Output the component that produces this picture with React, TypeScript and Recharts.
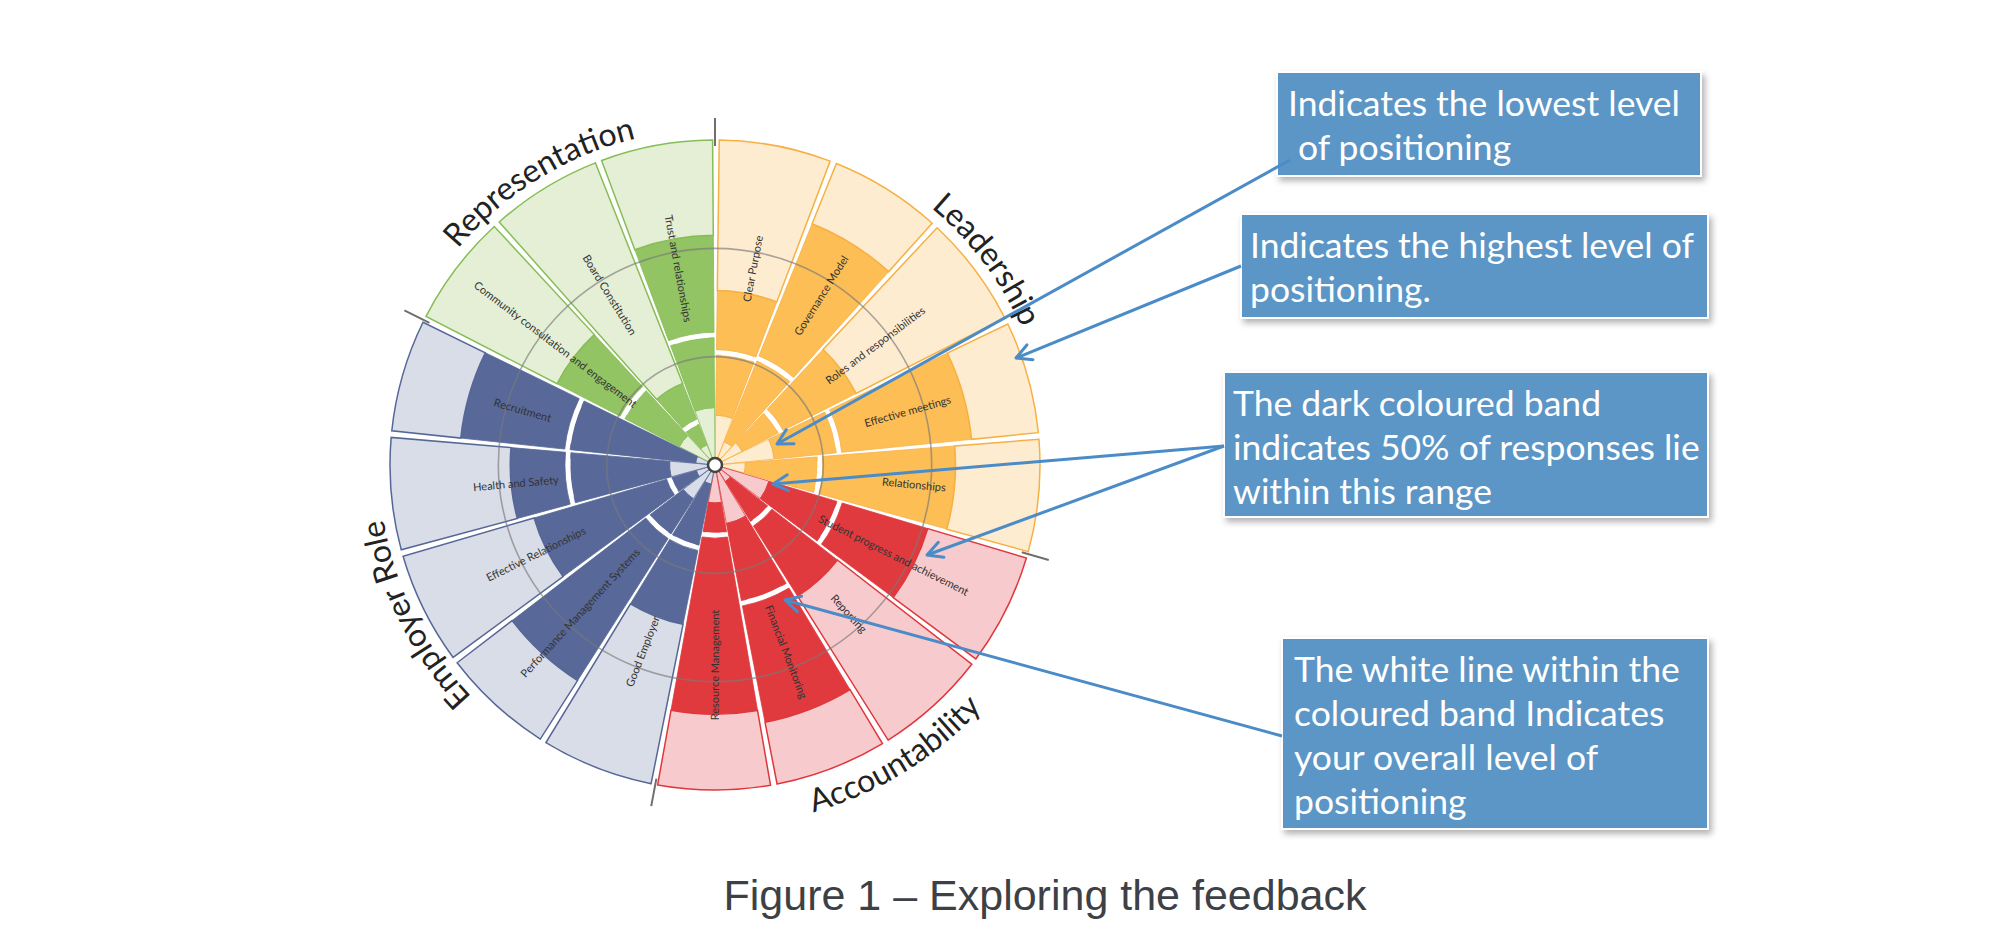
import React from 'react';
import {
  RadialBarChart,
  RadialBar,
  PolarAngleAxis,
  PolarRadiusAxis,
  PolarGrid,
  Cell,
  Sector,
  LabelList,
} from 'recharts';

// groups, clockwise from 12 o'clock
const groupNames = ['Leadership', 'Accountability', 'Employer Role', 'Representation'];

const segmentNames = [
  'Clear Purpose', 'Governance Model', 'Roles and responsibilities', 'Effective meetings', 'Relationships',
  'Student progress and achievement', 'Reporting', 'Financial Monitoring', 'Resource Management',
  'Good Employer', 'Performance Management Systems', 'Effective Relationships', 'Health and Safety', 'Recruitment',
  'Community consultation and engagement', 'Board Constitution', 'Trust and relationships',
];
const segmentGroup = [0, 0, 0, 0, 0, 1, 1, 1, 1, 2, 2, 2, 2, 2, 3, 3, 3];

// bottom of the dark band
const lowValues = [0.46, 0.23, 0.28, 0.55, 0.28, 0.52, 0.18, 0.55, 0.35, 0.18, 0.37, 0.18, 0.42, 0.18, 0.37, 0.2, 0.53];
// white line = overall level
const medianValues = [1.04, 1.06, 0.68, 1.15, 0.97, 1.2, 0.64, 1.3, 0.65, 0.78, 0.78, 0.44, 1.36, 1.37, 0.96, 0.43, 1.2];
// top of the dark band
const highValues = [1.61, 2.4, 1.46, 2.38, 2.22, 2.05, 1.43, 2.42, 2.3, 1.5, 2.36, 1.74, 1.89, 2.36, 1.64, 0.81, 2.12];

const scaleMax = 3;
const gridTicks = [1, 2];

const annotations = [
  ['Indicates the lowest level', ' of positioning'],
  ['Indicates the highest level of', 'positioning.'],
  ['The dark coloured band', 'indicates 50% of responses lie', 'within this range'],
  ['The white line within the', 'coloured band Indicates', 'your overall level of', 'positioning'],
];
const caption = 'Figure 1 \u2013 Exploring the feedback';

const palette = [
  { light: '#feecd0', dark: '#fdbe55', edge: '#f7b043' },
  { light: '#f7cbcd', dark: '#e13a3e', edge: '#df373c' },
  { light: '#d8dde8', dark: '#586899', edge: '#566797' },
  { light: '#e4efd6', dark: '#92c464', edge: '#87bd56' },
];

const CX = 715;
const CY = 465;
const R = 325;
const LINE_HALF = 0.025; // half thickness of the white median line
const LABEL_R = 200;

const step = 360 / segmentNames.length;

const rows = segmentNames.map((name, i) => ({
  name,
  group: segmentGroup[i],
  lowPart: lowValues[i],
  lowBand: medianValues[i] - lowValues[i] - LINE_HALF,
  medianLine: LINE_HALF * 2,
  highBand: highValues[i] - medianValues[i] - LINE_HALF,
  topPart: scaleMax - highValues[i],
}));

const parts = [
  { key: 'lowPart', tone: 'light' },
  { key: 'lowBand', tone: 'dark' },
  { key: 'medianLine', tone: 'line' },
  { key: 'highBand', tone: 'dark' },
  { key: 'topPart', tone: 'light' },
];

const renderMedian = (props: any) => {
  const { cx, cy, innerRadius, outerRadius, startAngle, endAngle } = props;
  const inset = (endAngle - startAngle) * 0.12;
  return (
    <Sector
      cx={cx}
      cy={cy}
      innerRadius={innerRadius}
      outerRadius={outerRadius}
      startAngle={startAngle + inset}
      endAngle={endAngle - inset}
      fill="#ffffff"
    />
  );
};

const renderSegmentLabel = (props: any) => {
  const { viewBox, value, index } = props;
  if (!viewBox) return null;
  const mid = (viewBox.startAngle + viewBox.endAngle) / 2;
  const rad = (-mid * Math.PI) / 180;
  const x = viewBox.cx + LABEL_R * Math.cos(rad);
  const y = viewBox.cy + LABEL_R * Math.sin(rad);
  const a = (((mid % 360) + 540) % 360) - 180;
  const rot = a >= -90 && a <= 90 ? -a : 180 - a;
  return (
    <text
      key={`lbl-${index}`}
      x={x}
      y={y}
      transform={`rotate(${rot} ${x} ${y})`}
      textAnchor="middle"
      dominantBaseline="central"
      fontFamily="Lato, 'Open Sans', sans-serif"
      fontSize={11}
      fill="#333"
    >
      {value}
    </text>
  );
};

// helpers for the overlay (titles, arrows) - theta clockwise from 12 o'clock
const pt = (theta: number, r: number) => [
  CX + r * Math.sin((theta * Math.PI) / 180),
  CY - r * Math.cos((theta * Math.PI) / 180),
];
const arcPath = (t1: number, t2: number, r: number, clockwise: boolean) => {
  const [x1, y1] = pt(t1, r);
  const [x2, y2] = pt(t2, r);
  return `M${x1},${y1} A${r},${r} 0 0 ${clockwise ? 1 : 0} ${x2},${y2}`;
};

const groupStart = groupNames.map((_, g) => segmentGroup.indexOf(g) * step);
const groupMid = groupNames.map((_, g) => {
  const count = segmentGroup.filter((s) => s === g).length;
  return groupStart[g] + (count * step) / 2;
});

const boxes = [
  { x: 1277, y: 72, w: 424, h: 104, tx: [1288, 1298] },
  { x: 1241, y: 214, w: 467, h: 104, tx: [1250, 1250] },
  { x: 1224, y: 372, w: 484, h: 145, tx: [1233, 1233, 1233] },
  { x: 1282, y: 638, w: 426, h: 191, tx: [1294, 1294, 1294, 1294] },
];

const arrows = [
  { from: [1290, 160], to: [777, 444] },
  { from: [1241, 266], to: [1016, 358] },
  { from: [1224, 446], to: [773, 484] },
  { from: [1224, 446], to: [927, 555] },
  { from: [1282, 736], to: [785, 600] },
];

function ArrowHead({ from, to }: { from: number[]; to: number[] }) {
  const ang = Math.atan2(from[1] - to[1], from[0] - to[0]);
  const len = 17;
  const spread = (28 * Math.PI) / 180;
  const p1 = [to[0] + len * Math.cos(ang + spread), to[1] + len * Math.sin(ang + spread)];
  const p2 = [to[0] + len * Math.cos(ang - spread), to[1] + len * Math.sin(ang - spread)];
  return (
    <polyline
      points={`${p1[0]},${p1[1]} ${to[0]},${to[1]} ${p2[0]},${p2[1]}`}
      fill="none"
      stroke="#4b8cc8"
      strokeWidth={3}
      strokeLinejoin="round"
      strokeLinecap="round"
    />
  );
}

export default function App() {
  return (
    <div style={{ position: 'absolute', left: 0, top: 0, width: 2000, height: 951, background: '#fff', overflow: 'hidden' }}>
      <div style={{ position: 'absolute', left: 0, top: 0 }}>
        <RadialBarChart
          width={2000}
          height={951}
          cx={CX}
          cy={CY}
          innerRadius={0}
          outerRadius={R}
          startAngle={90 - step}
          endAngle={-270 - step}
          layout="centric"
          data={rows}
          barCategoryGap="2%"
          margin={{ top: 0, right: 0, bottom: 0, left: 0 }}
        >
          <PolarAngleAxis type="category" dataKey="name" tick={false} axisLine={false} tickLine={false} />
          <PolarRadiusAxis
            type="number"
            domain={[0, scaleMax]}
            ticks={gridTicks}
            tick={false}
            axisLine={false}
            tickLine={false}
          />
          {parts.map((p) => (
            <RadialBar
              key={p.key}
              dataKey={p.key}
              stackId="wheel"
              isAnimationActive={false}
              shape={p.tone === 'line' ? renderMedian : undefined}
            >
              {rows.map((r, i) => {
                const c = palette[r.group];
                const fill = p.tone === 'light' ? c.light : p.tone === 'dark' ? c.dark : '#ffffff';
                return (
                  <Cell
                    key={`c-${i}`}
                    fill={fill}
                    stroke={p.tone === 'line' ? 'none' : c.edge}
                    strokeWidth={p.key === 'topPart' ? 1.5 : 0.8}
                  />
                );
              })}
              {p.key === 'topPart' && <LabelList dataKey="name" content={renderSegmentLabel} />}
            </RadialBar>
          ))}
          <PolarGrid
            gridType="circle"
            radialLines={false}
            stroke="#7a7a7a"
            strokeOpacity={0.65}
            strokeWidth={1.6}
            zIndex={1000}
          />
        </RadialBarChart>
      </div>

      <svg
        width={2000}
        height={951}
        style={{ position: 'absolute', left: 0, top: 0, pointerEvents: 'none' }}
      >
        <defs>
          <filter id="boxShadow" x="-10%" y="-10%" width="130%" height="140%">
            <feDropShadow dx="3" dy="4" stdDeviation="3" floodColor="#000" floodOpacity="0.3" />
          </filter>
          {groupNames.map((g, i) => {
            const isBottom = i === 1;
            const path = isBottom
              ? arcPath(groupMid[i] + 60, groupMid[i] - 60, 361, false)
              : arcPath(groupMid[i] - 60, groupMid[i] + 60, 336, true);
            return <path key={g} id={`grp-${i}`} d={path} fill="none" />;
          })}
        </defs>

        {/* group boundary ticks outside the wheel */}
        {groupStart.map((t, i) => {
          const [x1, y1] = pt(t, R - 6);
          const [x2, y2] = pt(t, R + 22);
          return <line key={i} x1={x1} y1={y1} x2={x2} y2={y2} stroke="#6f6f6f" strokeWidth={2} />;
        })}

        <circle cx={CX} cy={CY} r={7} fill="#fff" stroke="#444" strokeWidth={2.5} />

        {groupNames.map((g, i) => (
          <text key={g} fontFamily="Lato, 'Open Sans', sans-serif" fontSize={32} fill="#222">
            <textPath href={`#grp-${i}`} startOffset="50%" textAnchor="middle">
              {g}
            </textPath>
          </text>
        ))}

        {boxes.map((b, i) => (
          <g key={i}>
            <rect x={b.x} y={b.y} width={b.w} height={b.h} fill="#5b96c6" stroke="#ffffff" strokeWidth={2} filter="url(#boxShadow)" />
            {annotations[i].map((line, j) => (
              <text
                key={j}
                x={b.tx[j]}
                y={b.y + 44 + j * 44}
                fontFamily="Lato, 'Open Sans', sans-serif"
                fontSize={35.5}
                fill="#ffffff"
              >
                {line.trim()}
              </text>
            ))}
          </g>
        ))}

        {arrows.map((a, i) => (
          <g key={i}>
            <line x1={a.from[0]} y1={a.from[1]} x2={a.to[0]} y2={a.to[1]} stroke="#4b8cc8" strokeWidth={3} />
            <ArrowHead from={a.from} to={a.to} />
          </g>
        ))}

        <text
          x={1045}
          y={910}
          textAnchor="middle"
          fontFamily="'Liberation Sans', Arial, sans-serif"
          fontSize={43}
          fill="#3d4145"
        >
          {caption}
        </text>
      </svg>
    </div>
  );
}
